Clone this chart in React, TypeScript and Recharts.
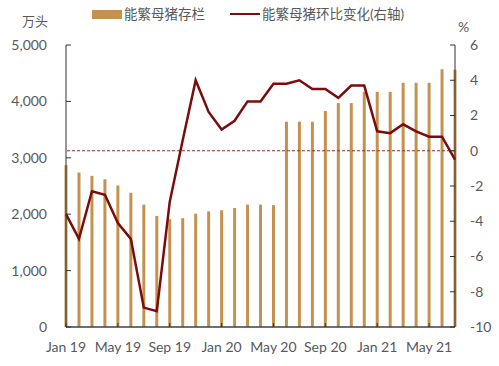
import { ComposedChart, Bar, Line, XAxis, YAxis, ReferenceLine } from 'recharts';

const months = [
  'Jan 19', 'Feb 19', 'Mar 19', 'Apr 19', 'May 19', 'Jun 19', 'Jul 19', 'Aug 19', 'Sep 19', 'Oct 19', 'Nov 19', 'Dec 19',
  'Jan 20', 'Feb 20', 'Mar 20', 'Apr 20', 'May 20', 'Jun 20', 'Jul 20', 'Aug 20', 'Sep 20', 'Oct 20', 'Nov 20', 'Dec 20',
  'Jan 21', 'Feb 21', 'Mar 21', 'Apr 21', 'May 21', 'Jun 21', 'Jul 21',
];

// 能繁母猪存栏 (万头)
const sowStock = [
  2870, 2740, 2680, 2620, 2510, 2380, 2170, 1970, 1910, 1930, 2010, 2050,
  2070, 2110, 2170, 2170, 2160, 3640, 3640, 3640, 3830, 3970, 3970, 4170,
  4170, 4170, 4330, 4330, 4330, 4570, 4560,
];

// 环比变化 (%)
const sowMoM = [
  -3.6, -5.0, -2.3, -2.5, -4.1, -5.0, -8.9, -9.1, -2.9, 0.6, 4.0, 2.2,
  1.2, 1.7, 2.8, 2.8, 3.8, 3.8, 4.0, 3.5, 3.5, 3.0, 3.7, 3.7,
  1.1, 1.0, 1.5, 1.1, 0.8, 0.8, -0.5,
];

const xTicks = [0, 4, 8, 12, 16, 20, 24, 28];
const leftTicks = [0, 1000, 2000, 3000, 4000, 5000];
const rightTicks = [-10, -8, -6, -4, -2, 0, 2, 4, 6];

const BAR = '#C4924E';
const LINE = '#7B0C0C';
const TXT = '#595959';
const FONT = "Lato, 'Noto Sans CJK SC', sans-serif";

const data = months.map((m, i) => ({ idx: i, month: m, stock: sowStock[i], mom: sowMoM[i] }));

export default function App() {
  const tick = { fill: TXT, fontSize: 14, fontFamily: FONT };
  return (
    <div style={{ position: 'absolute', left: 0, top: 0, width: 499, height: 366, background: '#fff', fontFamily: FONT }}>
      <span style={{ position: 'absolute', left: 22, top: 13, fontSize: 13, color: TXT, lineHeight: '16px' }}>万头</span>
      <span style={{ position: 'absolute', left: 458, top: 19, fontSize: 14, color: TXT, lineHeight: '16px' }}>%</span>
      <div style={{ position: 'absolute', left: 92, top: 10, width: 30, height: 9, background: BAR }} />
      <span style={{ position: 'absolute', left: 124, top: 6, fontSize: 13.5, color: TXT, lineHeight: '16px' }}>能繁母猪存栏</span>
      <div style={{ position: 'absolute', left: 230, top: 13, width: 30, height: 2, background: LINE }} />
      <span style={{ position: 'absolute', left: 262, top: 6, fontSize: 13.5, color: TXT, lineHeight: '16px' }}>能繁母猪环比变化(右轴)</span>

      <ComposedChart width={499} height={366} data={data} margin={{ top: 45, right: 0, bottom: 0, left: 0 }}>
        <XAxis
          dataKey="idx"
          type="number"
          domain={[0, 30]}
          ticks={xTicks}
          tickFormatter={(v: number) => months[v]}
          height={39}
          tick={tick}
          tickSize={-4}
          tickMargin={19}
          axisLine={{ stroke: '#404040', strokeWidth: 1.5 }}
          tickLine={{ stroke: '#333' }}
        />
        <YAxis
          yAxisId="left"
          domain={[0, 5000]}
          ticks={leftTicks}
          width={66}
          tick={tick}
          tickSize={-5}
          tickMargin={24}
          tickFormatter={(v: number) => v.toLocaleString('en-US')}
          axisLine={{ stroke: '#333' }}
          tickLine={{ stroke: '#333' }}
        />
        <YAxis
          yAxisId="right"
          orientation="right"
          domain={[-10, 6]}
          ticks={rightTicks}
          width={44}
          tick={tick}
          tickSize={-5}
          tickMargin={20}
          axisLine={{ stroke: '#333' }}
          tickLine={{ stroke: '#333' }}
        />
        <Bar yAxisId="left" dataKey="stock" fill={BAR} barSize={3} isAnimationActive={false} />
        <ReferenceLine yAxisId="right" y={0} stroke="#9B2A2A" strokeDasharray="3 2" />
        <Line yAxisId="right" dataKey="mom" stroke={LINE} strokeWidth={2.5} dot={false} isAnimationActive={false} />
      </ComposedChart>
    </div>
  );
}
